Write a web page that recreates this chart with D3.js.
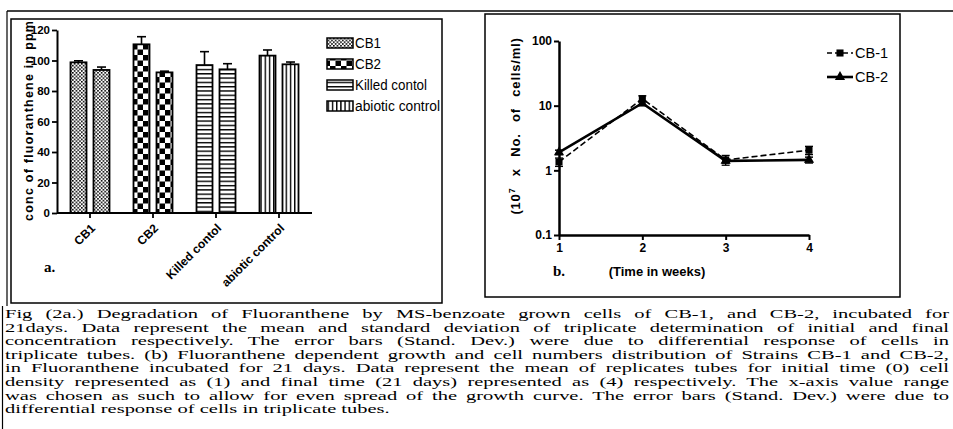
<!DOCTYPE html>
<html><head><meta charset="utf-8">
<script src="https://cdn.jsdelivr.net/npm/d3@7"></script>
<style>
html,body{margin:0;padding:0;background:#fff;}
svg{display:block;}
.sans{font-family:"Liberation Sans",Arial,sans-serif;}
.serif{font-family:"Liberation Serif","Times New Roman",serif;}
</style></head>
<body>
<script>
// ---------- Panel a data ----------
const categories = ["CB1", "CB2", "Killed contol", "abiotic control"];
const initialValues = [98.8, 110.6, 97.0, 103.2];
const initialErr = [1.0, 5.0, 8.8, 3.7];
const finalValues = [93.8, 92.2, 94.2, 97.5];
const finalErr = [1.9, 0.8, 3.7, 1.5];
const yTicksA = [0, 20, 40, 60, 80, 100, 120];
const legendA = ["CB1", "CB2", "Killed contol", "abiotic control"];

// ---------- Panel b data ----------
const weeks = [1, 2, 3, 4];
const cb1Cells = [1.35, 12.8, 1.45, 2.05];
const cb1Err = [0.2, 1.4, 0.25, 0.3];
const cb2Cells = [1.9, 10.9, 1.4, 1.45];
const cb2Err = [0.15, 0.9, 0.1, 0.15];
const yTicksB = [0.1, 1, 10, 100];
const legendB = ["CB-1", "CB-2"];

const captionLines = [
 "Fig (2a.) Degradation of Fluoranthene by MS-benzoate grown cells of CB-1, and CB-2, incubated for",
 "21days. Data represent the mean and standard deviation of triplicate determination of initial and final",
 "concentration respectively. The error bars (Stand. Dev.) were due to differential response of cells in",
 "triplicate tubes. (b) Fluoranthene dependent growth and cell numbers distribution of Strains CB-1 and CB-2,",
 "in Fluoranthene incubated for 21 days. Data represent the mean of replicates tubes for initial time (0) cell",
 "density represented as (1) and final time (21 days) represented as (4) respectively. The x-axis value range",
 "was chosen as such to allow for even spread of the growth curve. The error bars (Stand. Dev.) were due to",
 "differential response of cells in triplicate tubes."
];

const W = 953, H = 429;
const svg = d3.select("body").append("svg").attr("width", W).attr("height", H);

// ---------- patterns ----------
const defs = svg.append("defs");
const pFine = defs.append("pattern").attr("id","pFine").attr("patternUnits","userSpaceOnUse").attr("width",3.6).attr("height",3.6);
pFine.append("rect").attr("width",3.6).attr("height",3.6).attr("fill","#fff");
pFine.append("rect").attr("width",1.6).attr("height",1.6).attr("fill","#000");
pFine.append("rect").attr("x",1.8).attr("y",1.8).attr("width",1.6).attr("height",1.6).attr("fill","#000");
const pBig = defs.append("pattern").attr("id","pBig").attr("patternUnits","userSpaceOnUse").attr("width",11).attr("height",11);
pBig.append("rect").attr("width",11).attr("height",11).attr("fill","#fff");
pBig.append("rect").attr("width",5.5).attr("height",5.5).attr("fill","#000");
pBig.append("rect").attr("x",5.5).attr("y",5.5).attr("width",5.5).attr("height",5.5).attr("fill","#000");
const pH = defs.append("pattern").attr("id","pH").attr("patternUnits","userSpaceOnUse").attr("width",4.3).attr("height",4.3);
pH.append("rect").attr("width",4.3).attr("height",4.3).attr("fill","#fff");
pH.append("rect").attr("y",0).attr("width",4.3).attr("height",1.4).attr("fill","#000");
const pV = defs.append("pattern").attr("id","pV").attr("patternUnits","userSpaceOnUse").attr("width",4.2).attr("height",4.2);
pV.append("rect").attr("width",4.2).attr("height",4.2).attr("fill","#fff");
pV.append("rect").attr("x",0).attr("width",1.4).attr("height",4.2).attr("fill","#000");
const patterns = ["url(#pFine)","url(#pBig)","url(#pH)","url(#pV)"];

// ---------- frames ----------
const fr = svg.append("g").attr("fill","none").attr("stroke","#000");
fr.append("line").attr("x1",7).attr("x2",953).attr("y1",11).attr("y2",11).attr("stroke-width",1.5);
fr.append("line").attr("x1",7).attr("x2",7).attr("y1",11).attr("y2",306).attr("stroke-width",1.2);
fr.append("line").attr("x1",2.5).attr("x2",2.5).attr("y1",306).attr("y2",429).attr("stroke-width",1.2);
fr.append("rect").attr("x",11).attr("y",19).attr("width",431).attr("height",284).attr("stroke-width",1.5);
fr.append("rect").attr("x",485).attr("y",14).attr("width",415).attr("height",283).attr("stroke-width",1.5);

// ---------- Panel a ----------
const gA = svg.append("g").attr("class","sans");
const xA = d3.scaleBand().domain(categories).range([58.5, 310.5]).padding(0);
const xA1 = d3.scaleBand().domain(["initial","final"]).range([-19.5, 19.5]).paddingInner(0.304).paddingOuter(0);
const yA = d3.scaleLinear().domain([0,120]).range([213, 30]);

const barData = [];
categories.forEach((c,i) => {
  barData.push({cat:c, idx:i, k:"initial", v:initialValues[i], e:initialErr[i]});
  barData.push({cat:c, idx:i, k:"final", v:finalValues[i], e:finalErr[i]});
});
const cx = d => xA(d.cat) + xA.bandwidth()/2 + xA1(d.k);
const eg = gA.append("g").attr("stroke","#000").attr("stroke-width",1.6);
barData.forEach(d => {
  const xm = cx(d) + xA1.bandwidth()/2;
  eg.append("line").attr("x1",xm).attr("x2",xm).attr("y1",yA(d.v)).attr("y2",yA(d.v+d.e));
  eg.append("line").attr("x1",xm-4.5).attr("x2",xm+4.5).attr("y1",yA(d.v+d.e)).attr("y2",yA(d.v+d.e));
});
gA.append("g").selectAll("rect").data(barData).join("rect")
  .attr("x", d => cx(d)).attr("width", xA1.bandwidth())
  .attr("y", d => yA(d.v)).attr("height", d => yA(0) - yA(d.v))
  .attr("fill", d => patterns[d.idx]).attr("stroke","#000").attr("stroke-width",1.8);

const axYA = gA.append("g").attr("transform","translate(57,0)")
  .call(d3.axisLeft(yA).tickValues(yTicksA).tickSize(5).tickPadding(2).tickSizeOuter(0));
axYA.select(".domain").attr("stroke-width",2);
axYA.selectAll(".tick line").attr("stroke-width",1.8);
axYA.selectAll("text").attr("font-size",11.5).attr("font-weight","bold").attr("font-family","Liberation Sans, Arial");

const axXA = gA.append("g").attr("transform","translate(0,213)")
  .call(d3.axisBottom(xA).tickSize(5).tickSizeOuter(0));
axXA.select(".domain").attr("d","M57,0H312").attr("stroke-width",2);
axXA.selectAll(".tick line").attr("stroke-width",1.8);
axXA.selectAll("text").attr("font-size",12).attr("font-weight","bold").attr("font-family","Liberation Sans, Arial")
  .attr("text-anchor","end").attr("dy",0).attr("y",0)
  .attr("transform","translate(6,16) rotate(-45)");

gA.append("text").attr("transform","translate(33,121) rotate(-90)")
  .attr("text-anchor","middle").attr("font-size",12.5).attr("font-weight","bold")
  .attr("textLength",200).attr("lengthAdjust","spacing")
  .text("conc of fluoranthene in ppm");

const legA = gA.append("g");
const legAW = [26, 26, 72, 85];
legendA.forEach((t,i) => {
  const y = 43 + i*21;
  legA.append("rect").attr("x",327).attr("y",y-5).attr("width",26).attr("height",10)
    .attr("fill",patterns[i]).attr("stroke","#000").attr("stroke-width",1.5);
  legA.append("text").attr("x",355).attr("y",y+5).attr("font-size",14)
    .attr("textLength",legAW[i]).attr("lengthAdjust","spacingAndGlyphs").text(t);
});

svg.append("text").attr("class","serif").attr("x",44).attr("y",272).attr("font-size",15).attr("font-weight","bold").text("a.");

// ---------- Panel b ----------
const gB = svg.append("g").attr("class","sans");
const xB = d3.scaleLinear().domain([1,4]).range([559, 809]);
const yB = d3.scaleLog().domain([0.1,100]).range([235, 41]);

const axYB = gB.append("g").attr("transform","translate(559,0)")
  .call(d3.axisLeft(yB).tickValues(yTicksB).tickFormat(d3.format("~g")).tickSize(5).tickPadding(2).tickSizeOuter(0));
axYB.select(".domain").attr("stroke-width",2.5);
axYB.selectAll(".tick line").attr("stroke-width",2);
axYB.selectAll("text").attr("font-size",12).attr("font-weight","bold").attr("font-family","Liberation Sans, Arial");

const axXB = gB.append("g").attr("transform","translate(0,235)")
  .call(d3.axisBottom(xB).tickValues(weeks).tickFormat(d3.format("d")).tickSize(5).tickPadding(3).tickSizeOuter(0));
axXB.select(".domain").attr("stroke-width",2.5);
axXB.selectAll(".tick line").attr("stroke-width",2);
axXB.selectAll("text").attr("font-size",12).attr("font-weight","bold").attr("font-family","Liberation Sans, Arial");

const lineGen = d3.line().x((d,i) => xB(weeks[i])).y(d => yB(d));
function errBars(vals, errs, w) {
  const g = gB.append("g").attr("stroke","#000").attr("stroke-width",w);
  vals.forEach((v,i) => {
    const x = xB(weeks[i]);
    g.append("line").attr("x1",x).attr("x2",x).attr("y1",yB(v-errs[i])).attr("y2",yB(v+errs[i]));
    [v-errs[i], v+errs[i]].forEach(e => g.append("line").attr("x1",x-4).attr("x2",x+4).attr("y1",yB(e)).attr("y2",yB(e)));
  });
}
errBars(cb1Cells, cb1Err, 1.3);
errBars(cb2Cells, cb2Err, 1.5);
gB.append("path").datum(cb1Cells).attr("d", lineGen).attr("fill","none").attr("stroke","#000")
  .attr("stroke-width",1.6).attr("stroke-dasharray","6,3");
gB.append("path").datum(cb2Cells).attr("d", lineGen).attr("fill","none").attr("stroke","#000")
  .attr("stroke-width",2.6);
const sq = d3.symbol().type(d3.symbolSquare).size(50);
const tri = d3.symbol().type(d3.symbolTriangle).size(45);
gB.append("g").selectAll("path").data(cb1Cells).join("path")
  .attr("transform",(d,i) => `translate(${xB(weeks[i])},${yB(d)})`).attr("d", sq).attr("fill","#000");
gB.append("g").selectAll("path").data(cb2Cells).join("path")
  .attr("transform",(d,i) => `translate(${xB(weeks[i])},${yB(d)})`).attr("d", tri).attr("fill","#000");

const yt = gB.append("text").attr("transform","translate(520,126) rotate(-90)")
  .attr("text-anchor","middle").attr("font-size",13).attr("font-weight","bold")
  .attr("letter-spacing",0.8).attr("word-spacing",7);
yt.append("tspan").text("(10");
yt.append("tspan").attr("font-size",9).attr("dy",-5).text("7");
yt.append("tspan").attr("dy",5).text(" x No. of cells/ml)");

gB.append("text").attr("x",657).attr("y",276).attr("text-anchor","middle").attr("font-size",13)
  .attr("font-weight","bold").text("(Time in weeks)");
svg.append("text").attr("class","serif").attr("x",553).attr("y",276).attr("font-size",15).attr("font-weight","bold").text("b.");

const lg = gB.append("g");
lg.append("line").attr("x1",827).attr("x2",853).attr("y1",53).attr("y2",53).attr("stroke","#000").attr("stroke-width",1.5).attr("stroke-dasharray","5,3");
lg.append("path").attr("transform","translate(840,53)").attr("d",sq).attr("fill","#000");
lg.append("text").attr("x",855).attr("y",58).attr("font-size",14.5).text(legendB[0]);
lg.append("line").attr("x1",827).attr("x2",853).attr("y1",77).attr("y2",77).attr("stroke","#000").attr("stroke-width",2.6);
lg.append("path").attr("transform","translate(840,77)").attr("d",tri).attr("fill","#000");
lg.append("text").attr("x",855).attr("y",82).attr("font-size",14.5).text(legendB[1]);

// ---------- caption ----------
const cap = svg.append("g").attr("class","serif");
const capFont = 13.5;
// measure last line to find horizontal stretch of the scanned caption
const probe = cap.append("text").attr("font-size",capFont).text(captionLines[captionLines.length-1]);
const sx = 385 / probe.node().getComputedTextLength();
probe.remove();
const capIn = cap.append("g").attr("transform",`translate(5,0) scale(${sx},1)`);
captionLines.forEach((t,i) => {
  const tx = capIn.append("text").attr("x",0).attr("y",318 + i*13.6).attr("font-size",capFont).text(t);
  if (i < captionLines.length - 1) {
    const len = tx.node().getComputedTextLength();
    const spaces = (t.match(/ /g) || []).length;
    const target = 944 / sx;
    if (len < target) tx.attr("word-spacing", (target - len) / spaces);
    else tx.attr("textLength", target).attr("lengthAdjust","spacingAndGlyphs");
  }
});
</script>
</body></html>
